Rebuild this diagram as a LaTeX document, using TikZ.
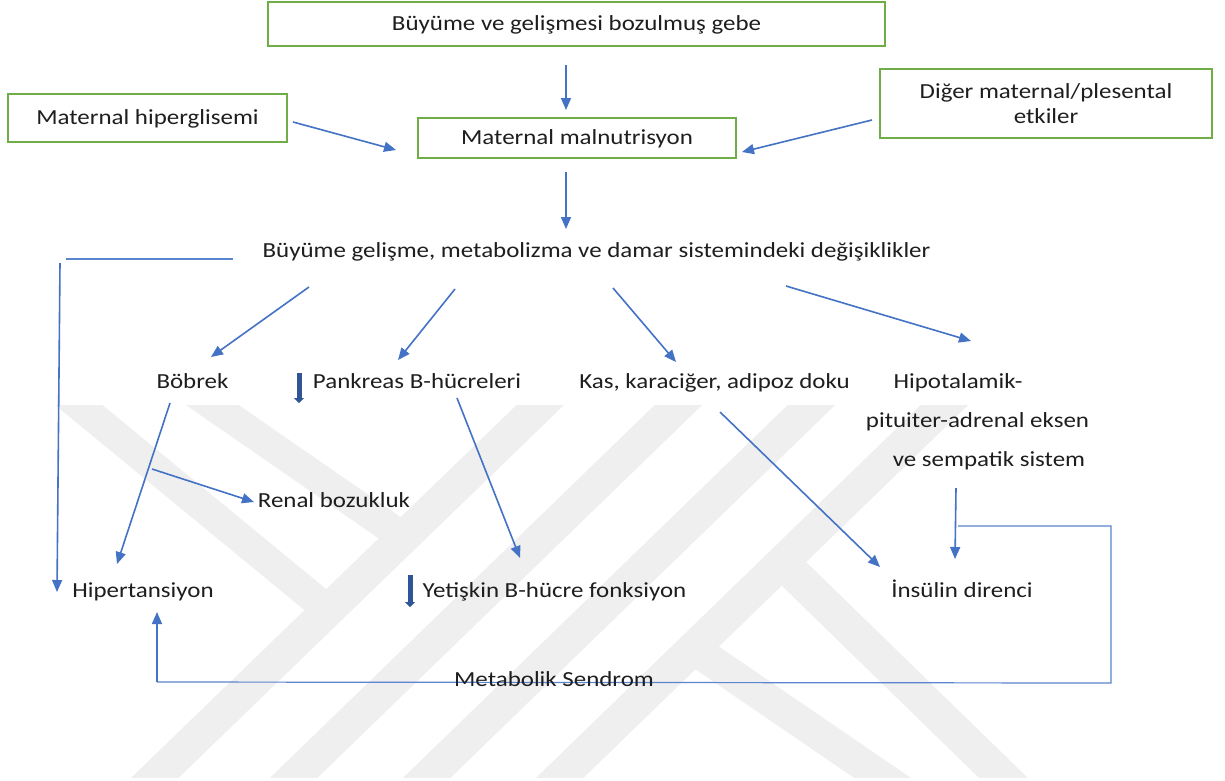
\documentclass[tikz,border=0pt]{standalone}
\usepackage{fontspec}
\setmainfont{Carlito}[FakeStretch=1.16]
\usetikzlibrary{arrows.meta}
\definecolor{boxgreen}{HTML}{70AD47}
\definecolor{arrblue}{HTML}{4472C4}
\definecolor{thinblue}{HTML}{5A85CF}
\definecolor{darkblue}{HTML}{2F5597}
\definecolor{wm}{HTML}{EFEFEF}
\definecolor{txtc}{HTML}{1E1E1E}
\begin{document}
\begin{tikzpicture}[x=1pt,y=-1pt,
  gbox/.style={draw=boxgreen, line width=1.8pt, fill=white, inner sep=0pt, text height=15pt, text depth=3pt},
  lbl/.style={anchor=base, inner sep=0pt, text=txtc},
  arr/.style={draw=arrblue, line width=1.6pt, -{Triangle[length=12pt,width=10pt]}},
  thinline/.style={draw=thinblue, line width=1.2pt},
  bararrow/.style={draw=darkblue, line width=5pt, -{Triangle[length=5pt,width=10pt]}},
  wmstrip/.style={draw=wm, line width=33pt},
  font=\fontsize{21.5}{25}\selectfont, text=txtc]
\useasboundingbox[fill=white] (0,0) rectangle (1225,780);

% watermark
\begin{scope}
\clip (0,405) rectangle (1225,777);
\draw[wmstrip] (104,827) -- (592,355);
\draw[wmstrip] (243,827) -- (730,355);
\draw[wmstrip] (376,827) -- (863,355);
\draw[wmstrip] (509,827) -- (996,355);
\draw[wmstrip, line width=30pt] (18,355) -- (328,610);
\draw[wmstrip, line width=30pt] (140,355) -- (403,537);
\draw[wmstrip, line width=32pt] (700,653) -- (966,835);
\draw[wmstrip, line width=34pt] (790,570) -- (1062,835);
\end{scope}

% boxes
\node[gbox, minimum width=617pt, minimum height=44pt] (gebe) at (576.5,24) {Büyüme ve gelişmesi bozulmuş gebe};
\node[gbox, minimum width=279pt, minimum height=48pt] (hiper) at (147.5,118) {Maternal hiperglisemi};
\node[gbox, minimum width=318pt, minimum height=40pt] (maln) at (577,138) {Maternal malnutrisyon};
\node[gbox, minimum width=332pt, minimum height=69pt] (diger) at (1046,103.5) {};
\node[lbl] (diger1) at (1046,98) {Diğer maternal/plesental};
\node[lbl] (diger2) at (1046,123) {etkiler};

% texts
\node[lbl] (degis) at (596.5,257) {Büyüme gelişme, metabolizma ve damar sistemindeki değişiklikler};
\node[lbl] (bobrek) at (192.5,388) {Böbrek};
\node[lbl] (pankreas) at (417,388) {Pankreas B-hücreleri};
\node[lbl] (kas) at (714.5,388) {Kas, karaciğer, adipoz doku};
\node[lbl] (hipo1) at (958,388) {Hipotalamik-};
\node[lbl] (hipo2) at (977.5,427) {pituiter-adrenal eksen};
\node[lbl] (hipo3) at (989,466) {ve sempatik sistem};
\node[lbl] (renal) at (334,507) {Renal bozukluk};
\node[lbl] (hipert) at (143,597) {Hipertansiyon};
\node[lbl] (yetiskin) at (554.5,597) {Yetişkin B-hücre fonksiyon};
\node[lbl] (insulin) at (962,597) {İnsülin direnci};

% connector end points
\coordinate (a1s) at (566,65);   \coordinate (a1e) at (566,110);
\coordinate (a2s) at (293,122);  \coordinate (a2e) at (396,150);
\coordinate (a3s) at (872,120);  \coordinate (a3e) at (742,152);
\coordinate (a4s) at (566,172);  \coordinate (a4e) at (566,229);
\coordinate (a5s) at (309,287);  \coordinate (a5e) at (211,357);
\coordinate (a6s) at (455,289);  \coordinate (a6e) at (398,360);
\coordinate (a7s) at (613,288);  \coordinate (a7e) at (676,362);
\coordinate (a8s) at (786,286);  \coordinate (a8e) at (971,341);
\coordinate (a9s) at (170,403);  \coordinate (a9e) at (117,564);
\coordinate (a10s) at (152,469); \coordinate (a10e) at (254,502);
\coordinate (a11s) at (457,398); \coordinate (a11e) at (520,558);
\coordinate (a12s) at (720,412); \coordinate (a12e) at (880,567);
\coordinate (a13s) at (956,488); \coordinate (a13e) at (955,559);
\coordinate (lh1) at (66,259);   \coordinate (lh2) at (233,259);
\coordinate (lvs) at (60,263);   \coordinate (lve) at (57,592);
\coordinate (r1) at (958,526);   \coordinate (r2) at (1111,526);
\coordinate (r3) at (1111,683);  \coordinate (r4) at (157,682);
\coordinate (upe) at (157,612);
\coordinate (b1s) at (299,373);  \coordinate (b1e) at (299,403);
\coordinate (b2s) at (410,575);  \coordinate (b2e) at (410,607);

\draw[arr] (a1s) -- (a1e);
\draw[arr] (a2s) -- (a2e);
\draw[arr] (a3s) -- (a3e);
\draw[arr] (a4s) -- (a4e);
\draw[arr] (a5s) -- (a5e);
\draw[arr] (a6s) -- (a6e);
\draw[arr] (a7s) -- (a7e);
\draw[arr] (a8s) -- (a8e);
\draw[arr] (a9s) -- (a9e);
\draw[arr] (a10s) -- (a10e);
\draw[arr] (a11s) -- (a11e);
\draw[arr] (a12s) -- (a12e);
\draw[arr] (a13s) -- (a13e);
\draw[thinline] (lh1) -- (lh2);
\draw[arr] (lvs) -- (lve);
\draw[thinline] (r1) -- (r2) -- (r3) -- (r4);
\draw[arr] (r4) -- (upe);
\draw[bararrow] (b1s) -- (b1e);
\draw[bararrow] (b2s) -- (b2e);

\node[lbl] (metab) at (554,686) {Metabolik Sendrom};
\end{tikzpicture}
\end{document}
